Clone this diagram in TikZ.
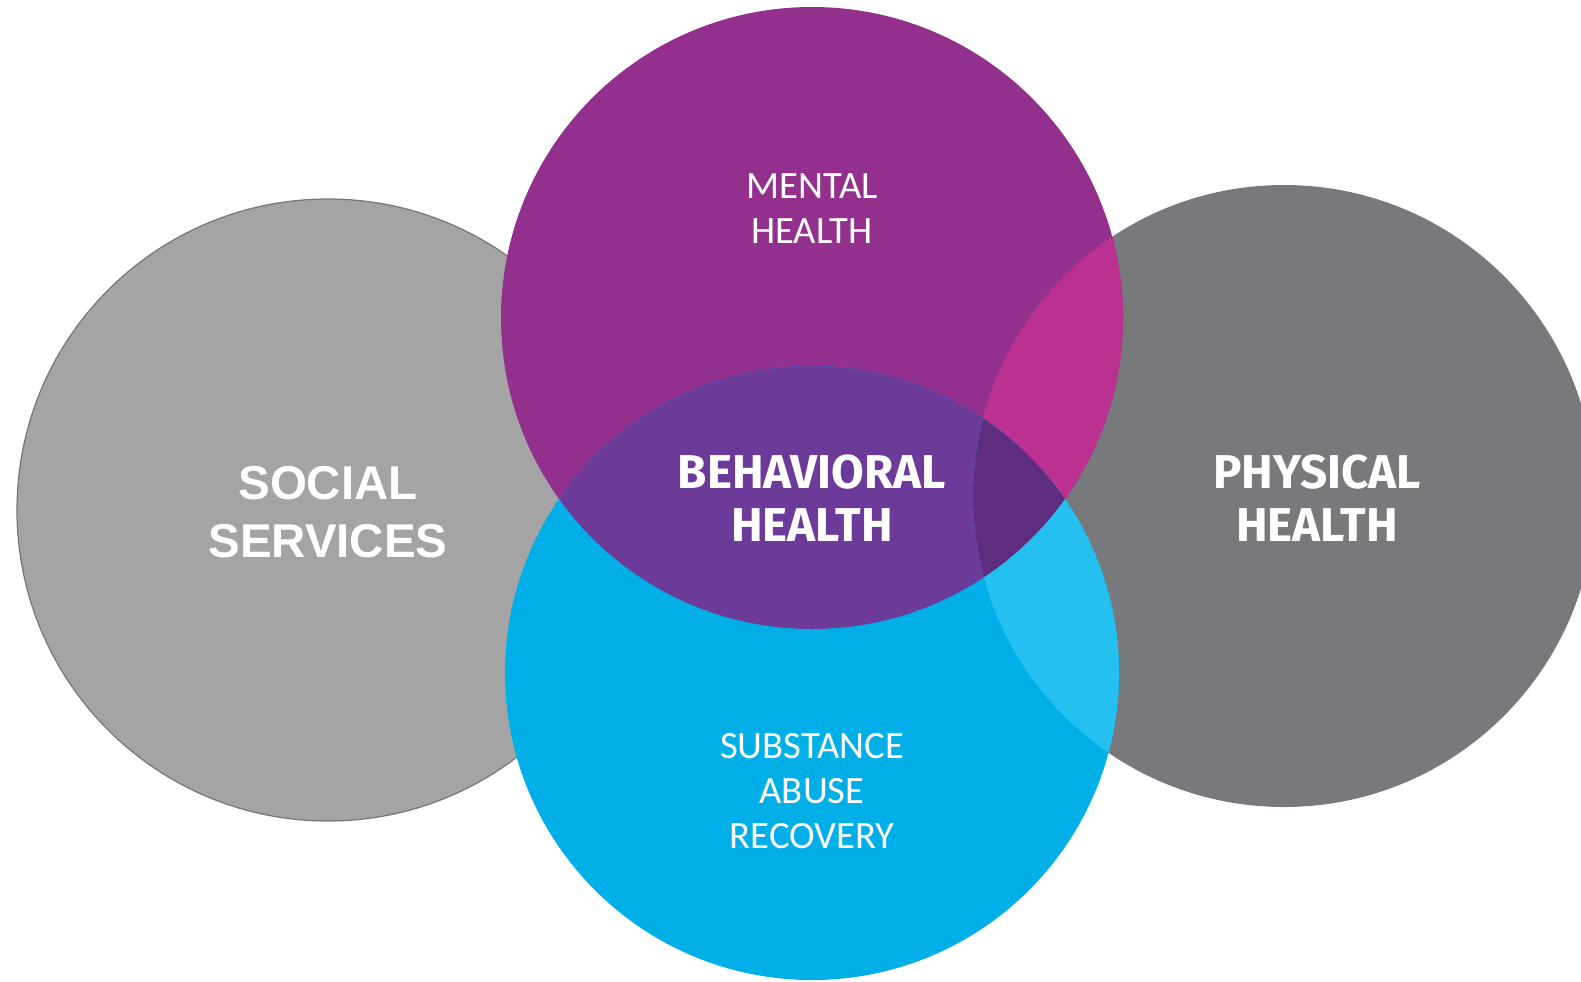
\documentclass[tikz,border=0pt]{standalone}
\usepackage{fontspec}
\newfontfamily\thinfont{Carlito}
\newfontfamily\dinfont{Fira Sans}
\newfontfamily\arialfont{Liberation Sans}
\definecolor{socialgrey}{HTML}{A4A4A4}
\definecolor{socialedge}{HTML}{777777}
\definecolor{physgrey}{HTML}{78797C}
\definecolor{mentalpurple}{HTML}{93308E}
\definecolor{abuseblue}{HTML}{00AFE8}
\definecolor{lenspurple}{HTML}{6C3A98}
\definecolor{lensmagenta}{HTML}{BB3192}
\definecolor{lensblue}{HTML}{24C1F0}
\definecolor{corepurple}{HTML}{5E2D80}
\tikzset{
  thinlabel/.style={text=white, align=center, font=\thinfont\fontsize{22}{25.6}\selectfont},
  dinlabel/.style={text=white, align=center, font=\dinfont\bfseries\fontsize{27}{30.2}\selectfont},
  ariallabel/.style={text=white, align=center, font=\arialfont\bfseries\fontsize{27}{33}\selectfont}
}
\def\mentalc{(812,318) circle (311)}
\def\abusec{(812,673) circle (307)}
\def\physc{(1284,496) circle (311)}

\begin{document}
\begin{tikzpicture}[x=0.02cm, y=-0.02cm]
		%%%%% START %%%%%
		\useasboundingbox (0,0) rectangle (1581,981);
		
		\draw[fill=socialgrey, draw=socialedge, line width=0.7pt] (328,510) circle (311);
		\fill[physgrey] \physc;
		
		\fill[mentalpurple] \mentalc;
		\fill[abuseblue] \abusec;
		
		% overlaps
		\begin{scope}
			\clip \mentalc;
			\fill[lenspurple] \abusec;
			\fill[lensmagenta] \physc;
		\end{scope}
		\begin{scope}
			\clip \abusec;
			\fill[lensblue] \physc;
		\end{scope}
		\begin{scope}
			\clip \mentalc;
			\clip \abusec;
			\fill[corepurple] \physc;
		\end{scope}
		
		\node[ariallabel] (social) at (328,512) {SOCIAL\\SERVICES};
		\node[thinlabel] (mental) at (812,209) {MENTAL\\HEALTH};
		\node[dinlabel] (behavioral) at (812,498) {BEHAVIORAL\\HEALTH};
		\node[dinlabel] (physical) at (1317,498) {PHYSICAL\\HEALTH};
		\node[thinlabel] (abuse) at (812,791) {SUBSTANCE\\ABUSE\\RECOVERY};
		
		%%%%% END %%%%%
	\end{tikzpicture}
\end{document}
